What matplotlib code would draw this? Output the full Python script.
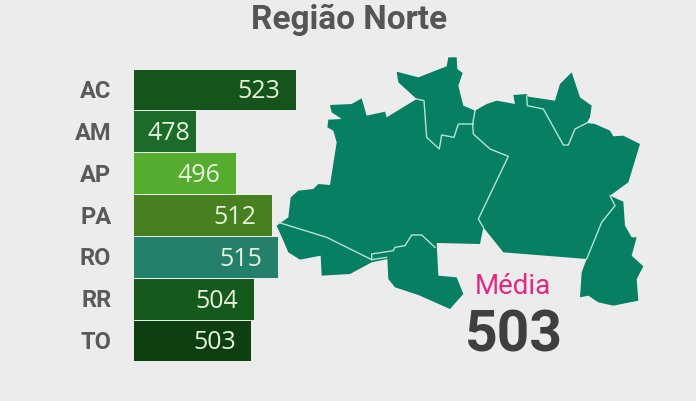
import matplotlib.pyplot as plt
from matplotlib.transforms import ScaledTranslation

states = ["AC", "AM", "AP", "PA", "RO", "RR", "TO"]
scores = [523, 478, 496, 512, 515, 504, 503]
bar_colors = ["#15551c", "#1c6b2b", "#56ac2e", "#47801f", "#24806a", "#155a1c", "#0e3f10"]
mean_score = 503

# map, in 3x crop pixels (crop origin 270,50)
outline = [
    (380, 68), (445, 85), (530, 52), (535, 25), (560, 25), (562, 60), (578, 72), (565, 110),
    (580, 170), (615, 185), (650, 165), (680, 155), (735, 165), (730, 138), (770, 135), (775, 143),
    (855, 155), (870, 105), (905, 70), (930, 145), (965, 170), (960, 205), (950, 222), (975, 225),
    (1020, 245), (1030, 262), (1060, 260), (1110, 285), (1075, 400), (1020, 440), (1060, 458),
    (1065, 530), (1085, 565), (1100, 565), (1085, 620), (1120, 652), (1100, 690), (1105, 755),
    (1030, 770), (985, 760), (955, 740), (930, 745), (935, 670), (950, 630), (700, 610), (640, 535),
    (630, 585), (500, 582), (505, 680), (560, 685), (580, 735), (540, 780), (445, 738), (375, 715),
    (355, 690), (352, 630), (305, 640), (240, 675), (155, 680), (152, 620), (90, 632), (55, 610),
    (40, 575), (20, 530), (55, 505), (62, 445), (85, 425), (130, 420), (145, 405), (180, 408),
    (200, 280), (190, 245), (172, 235), (175, 212), (215, 210), (185, 190), (180, 168), (245, 165),
    (275, 148), (290, 200), (345, 188), (350, 205), (440, 150), (385, 100),
]
borders = [
    [(440, 150), (462, 155), (470, 265), (508, 300), (515, 258), (552, 265), (565, 225), (610, 225)],
    [(615, 185), (608, 225), (610, 255), (660, 300), (715, 322), (625, 510), (640, 535)],
    [(770, 140), (772, 170), (820, 180), (880, 288), (895, 288), (915, 240), (950, 222)],
    [(1020, 440), (1035, 470), (995, 520), (950, 630)],
    [(25, 520), (170, 565), (305, 632), (350, 625)],
    [(305, 632), (305, 615), (370, 605), (375, 595), (405, 590), (425, 558), (455, 558), (495, 595)],
]

W, H = 696, 402
BG = "#ececec"
MAP_GREEN = "#077f63"


def to_px(points):
    return [270 + x / 3 for x, y in points], [50 + y / 3 for x, y in points]


fig = plt.figure(figsize=(W / 100, H / 100), dpi=100, facecolor=BG)

# ============================
# Bars
# ============================
left, right = 133.5, 296
top, bottom = 70, 363
ax = fig.add_axes([left / W, 1 - bottom / H, (right - left) / W, (bottom - top) / H])
ax.patch.set_alpha(0)
ax.barh(range(len(states)), scores, height=0.97, color=bar_colors)
ax.set_xlim(450, 523)
ax.set_ylim(len(states) - 0.5, -0.5)
ax.set_yticks(range(len(states)), states, family="Roboto", fontweight="bold", fontsize=17, color="#5a5a5a")
ax.tick_params(axis="y", length=0, pad=16)
ax.set_xticks([])
for side in ax.spines.values():
    side.set_visible(False)
for i, val in enumerate(scores):
    # the AM bar is short, its label sits closer to the bar end
    ax.text(max(val - 7, 475.4), i + 0.02, str(val), ha="right", va="center", family="Open Sans",
            fontsize=18, color="#e6f2dc")
up = ScaledTranslation(0, 2 / 100, fig.dpi_scale_trans)
for lab in ax.get_yticklabels():
    lab.set_transform(lab.get_transform() + up)

# ============================
# Map and text, in pixels
# ============================
over = fig.add_axes([0, 0, 1, 1])
over.set_xlim(0, W)
over.set_ylim(H, 0)
over.axis("off")
over.patch.set_alpha(0)

xs, ys = to_px(outline)
over.fill(xs, ys, color=MAP_GREEN, lw=0)
for line in borders:
    bx, by = to_px(line)
    over.plot(bx, by, color="#b4e4d3", lw=1.0, solid_joinstyle="round")

over.text(349, 20, "Região Norte", ha="center", va="center", family="Roboto", fontweight="bold",
          fontsize=24, color="#555555")
over.text(513, 287, "Média", ha="center", va="center", family="Roboto", fontsize=20, color="#e2287f")
over.text(514, 336, str(mean_score), ha="center", va="center", family="Roboto", fontweight="bold",
          fontsize=41, color="#3f3f41")

fig.savefig("out.png", dpi=100, facecolor=BG)
